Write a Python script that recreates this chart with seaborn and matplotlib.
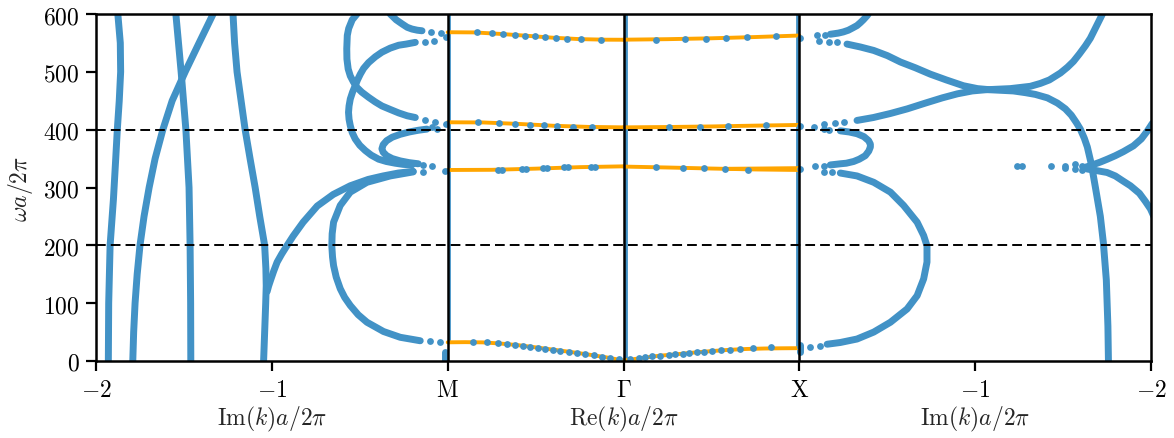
import matplotlib
matplotlib.use("Agg")
import matplotlib.pyplot as plt
import numpy as np
import pandas as pd
import seaborn as sns
from matplotlib.transforms import blended_transform_factory

# ---------------------------------------------------------------------------
# Complex band structure: Im(k) panels (left: M side, right: X side) and the
# real bands along M-Gamma-X.  Frequencies are omega*a/2pi.
# ---------------------------------------------------------------------------

# ---- left panel, Im(k)a/2pi (drawn at x = 2 + Im) -------------------------
L1_w  = [0, 100, 200, 280, 350, 400, 450, 500, 550, 600]
L1_im = [-1.930, -1.928, -1.920, -1.901, -1.888, -1.879, -1.868, -1.860, -1.862, -1.876]

L2_w  = [0, 50, 100, 150, 200, 250, 300, 350, 400, 450, 500, 550, 600]
L2_im = [-1.791, -1.786, -1.778, -1.766, -1.750, -1.727, -1.698, -1.664, -1.620, -1.567,
         -1.493, -1.414, -1.334]

L3_w  = [0, 100, 200, 300, 400, 500, 600]
L3_im = [-1.461, -1.462, -1.465, -1.471, -1.489, -1.516, -1.546]

L4_w  = [0, 50, 100, 130, 160, 200, 250, 300, 350, 400, 450, 500, 550, 600]
L4_im = [-1.047, -1.041, -1.035, -1.032, -1.034, -1.041, -1.069, -1.095, -1.124, -1.152,
         -1.175, -1.198, -1.212, -1.221]

L5_w  = [120, 130, 140, 155, 171, 185, 200, 216, 240, 268, 288, 303, 314, 320, 325, 328]
L5_im = [-1.027, -1.018, -1.007, -0.990, -0.970, -0.944, -0.913, -0.879, -0.822, -0.742,
         -0.651, -0.554, -0.452, -0.367, -0.281, -0.196]

L6_w  = [327, 320, 309, 292, 269, 240, 220, 199, 180, 165, 145, 125, 110, 96, 80, 67, 51, 41, 35]
L6_im = [-0.196, -0.327, -0.459, -0.554, -0.611, -0.649, -0.657, -0.659, -0.655, -0.649,
         -0.634, -0.611, -0.586, -0.554, -0.509, -0.459, -0.365, -0.270, -0.156]

LA_w  = [600, 590, 583, 577, 574, 572, 571]
LA_im = [-0.327, -0.293, -0.260, -0.230, -0.203, -0.173, -0.146]

LB_w  = [600, 590, 575, 563, 540, 522, 505, 493, 483, 473, 465, 456, 448, 441, 435, 429, 424, 421]
LB_im = [-0.516, -0.543, -0.563, -0.571, -0.574, -0.573, -0.566, -0.554, -0.537, -0.516,
         -0.489, -0.450, -0.412, -0.374, -0.327, -0.279, -0.230, -0.184]

LC_w  = [551, 548, 546, 541, 534, 526, 516, 506, 496, 486, 476, 465, 453, 441, 430, 418,
         407, 395, 384, 373, 364, 356, 349, 345, 342, 340, 339]
LC_im = [-0.184, -0.236, -0.279, -0.327, -0.374, -0.412, -0.450, -0.478, -0.497, -0.513,
         -0.526, -0.541, -0.554, -0.561, -0.564, -0.561, -0.554, -0.543, -0.526, -0.500,
         -0.469, -0.435, -0.393, -0.349, -0.298, -0.253, -0.203]

LS_w  = [401, 399, 396, 392, 387, 381, 374, 367, 361, 355, 350, 346, 343, 341]
LS_im = [-0.118, -0.167, -0.219, -0.270, -0.315, -0.347, -0.367, -0.374, -0.367, -0.347,
         -0.315, -0.270, -0.219, -0.167]

LM_w  = [0, 15]
LM_im = [-0.013, -0.013]

# isolated solutions close to M
Ldots_w  = [569.5, 568, 560, 552, 554, 417, 414, 410, 404, 401, 339, 338, 327, 329, 35, 33.5]
Ldots_im = [-0.093, -0.038, -0.010, -0.127, -0.080, -0.127, -0.071, -0.010, -0.089, -0.061,
            -0.139, -0.089, -0.139, -0.013, -0.099, -0.042]

# ---- right panel, Im(k)a/2pi (drawn at x = 4 - Im) ------------------------
R1_w  = [600, 597, 590, 585, 580, 576, 572, 569, 567, 565]
R1_im = [-0.392, -0.385, -0.364, -0.347, -0.328, -0.304, -0.279, -0.250, -0.222, -0.176]

R2_w  = [548, 543, 537, 528, 517, 507, 496, 486, 476, 471, 469, 467, 464, 461, 455, 446,
         436, 425, 412, 401, 385, 370, 340, 300, 250, 205, 140, 60, 0]
R2_im = [-0.271, -0.347, -0.423, -0.501, -0.575, -0.660, -0.745, -0.836, -0.933, -1.013,
         -1.086, -1.217, -1.286, -1.342, -1.411, -1.468, -1.513, -1.547, -1.576, -1.598,
         -1.621, -1.638, -1.661, -1.684, -1.712, -1.729, -1.746, -1.755, -1.758]

R3_w  = [416, 421, 428, 436, 446, 455, 462, 467, 469, 471, 475, 480, 486, 498, 508, 518,
         531, 545, 558, 572, 586, 600]
R3_im = [-0.328, -0.421, -0.518, -0.614, -0.717, -0.813, -0.899, -0.984, -1.058, -1.200,
         -1.314, -1.371, -1.422, -1.485, -1.525, -1.559, -1.593, -1.627, -1.655, -1.678,
         -1.701, -1.724]

R4_w  = [398, 396, 393, 388, 381, 375, 370, 363, 355, 349, 345, 342, 341, 339]
R4_im = [-0.233, -0.284, -0.328, -0.367, -0.394, -0.404, -0.404, -0.395, -0.375, -0.341,
         -0.309, -0.267, -0.233, -0.176]

R5_w  = [325, 320, 309, 292, 269, 240, 217, 199, 171, 142, 113, 90, 67, 50, 38, 32, 29]
R5_im = [-0.233, -0.328, -0.423, -0.518, -0.593, -0.670, -0.707, -0.726, -0.726, -0.707,
         -0.670, -0.613, -0.518, -0.423, -0.328, -0.233, -0.158]

R6_w  = [335, 339, 344, 349, 355, 362, 372, 384, 398, 411]
R6_im = [-1.627, -1.667, -1.712, -1.752, -1.797, -1.843, -1.900, -1.945, -1.980, -2.008]

R7_w  = [332, 329, 326, 320, 312, 303, 290, 276, 263, 240]
R7_im = [-1.637, -1.695, -1.750, -1.797, -1.837, -1.883, -1.934, -1.968, -1.997, -2.031]

RX_w  = [15, 27]
RX_im = [-0.006, -0.006]

# isolated solutions close to X and along omega ~ 335
Rdots_w  = [564, 564, 558, 554, 552, 551, 407, 404, 410, 411, 413, 401, 400, 338, 338, 332,
            326, 326, 26.5, 24, 24,
            337, 338, 337, 338, 333, 340, 332, 338, 330]
Rdots_im = [-0.148, -0.101, -0.006, -0.110, -0.167, -0.214, -0.006, -0.081, -0.138, -0.205,
            -0.252, -0.138, -0.167, -0.138, -0.091, -0.005, -0.138, -0.186, -0.119, -0.063,
            -0.005,
            -1.240, -1.268, -1.433, -1.513, -1.513, -1.570, -1.570, -1.610, -1.610]

# ---- real bands: t is the fraction along M->Gamma or Gamma->X -------------
MG1_t = [0, 0.1, 0.2, 0.3, 0.4, 0.5, 0.6, 0.7, 0.8, 0.9, 1.0]
MG1_w = [32.3, 32.6, 32.2, 30.2, 27.4, 23.6, 19.6, 15.6, 11.2, 6.4, 0.8]
MG2_t = [0, 0.25, 0.5, 0.75, 1.0]
MG2_w = [330.3, 330.6, 332.6, 335.2, 336.6]
MG3_t = [0, 0.2, 0.4, 0.6, 0.8, 1.0]
MG3_w = [412.8, 412.5, 410.0, 406.8, 404.8, 404.0]
MG4_t = [0, 0.15, 0.3, 0.45, 0.6, 0.75, 0.9, 1.0]
MG4_w = [568.5, 568.2, 565.6, 562.4, 559.0, 556.6, 555.6, 555.5]

GX1_t = [0, 0.1, 0.2, 0.3, 0.4, 0.5, 0.6, 0.7, 0.8, 0.9, 1.0]
GX1_w = [0.8, 5.0, 9.0, 11.6, 14.6, 17.1, 19.3, 20.8, 21.6, 22.0, 22.2]
GX2_t = [0, 0.25, 0.5, 0.75, 1.0]
GX2_w = [336.2, 334.6, 332.8, 331.2, 330.3]
GX2b_t = [0.6, 0.8, 1.0]
GX2b_w = [332.4, 332.9, 333.5]
GX3_t = [0, 0.25, 0.5, 0.75, 1.0]
GX3_w = [404.0, 404.6, 405.6, 407.0, 408.2]
GX4_t = [0, 0.25, 0.5, 0.75, 1.0]
GX4_w = [555.6, 556.5, 558.0, 560.2, 562.8]

# frequency-sweep solutions lying on the real bands
MGdots_t = [0.144, 0.224, 0.284, 0.338, 0.385, 0.429, 0.470, 0.512, 0.555, 0.599, 0.641,
            0.688, 0.736, 0.783, 0.830, 0.878, 0.925, 0.973,
            0.289, 0.311, 0.422, 0.444, 0.542, 0.564, 0.664, 0.686, 0.816, 0.838,
            0.172, 0.294, 0.385, 0.467, 0.546, 0.622, 0.711, 0.821,
            0.168, 0.254, 0.316, 0.385, 0.442, 0.499, 0.555, 0.618, 0.681, 0.760, 0.874]
MGdots_w = [33.4, 32.3, 30.6, 29.4, 27.7, 26.5, 24.8, 23.1, 21.3, 19.6, 17.8,
            16.1, 14.4, 12.1, 9.8, 7.4, 5.2, 2.9,
            330.8, 330.8, 332.0, 332.0, 333.1, 333.1, 334.8, 334.8, 336.0, 336.0,
            412.7, 411.0, 409.8, 408.6, 407.5, 406.3, 405.2, 404.0,
            568.4, 566.6, 565.4, 563.7, 562.5, 561.4, 559.7, 558.5, 556.8, 556.3, 555.2]
GXdots_t = [0.039, 0.087, 0.125, 0.163, 0.210, 0.257, 0.295, 0.337, 0.375, 0.419, 0.456,
            0.504, 0.552, 0.604, 0.665, 0.738, 0.836,
            0.186, 0.337, 0.460, 0.576, 0.709,
            0.257, 0.434, 0.595, 0.812,
            0.182, 0.347, 0.470, 0.584, 0.703, 0.869]
GXdots_w = [3.5, 5.2, 6.3, 8.1, 9.2, 10.4, 11.5, 12.7, 13.8, 15.0, 16.1,
            17.3, 18.4, 19.6, 20.8, 22.5, 23.6,
            336.0, 334.3, 333.1, 332.0, 330.8,
            404.0, 405.2, 406.3, 408.1,
            555.4, 556.2, 557.3, 558.5, 559.7, 561.4]

# solutions pinned just next to the high-symmetry points
edge_x  = [2.01, 3.012, 3.985]
edge_lo = [33, 0, 22]
edge_hi = [600, 600, 600]

# axis ticks
tick_pos    = [0, 1, 2, 3, 4, 5, 6]
tick_labels = [r"$-2$", r"$-1$", r"$\mathrm{M}$", r"$\Gamma$", r"$\mathrm{X}$", r"$-1$", r"$-2$"]
ytick_pos   = [0, 100, 200, 300, 400, 500, 600]
gap_lines   = [200, 400, 600]

BLUE = "#4292c6"
ORANGE = "#ffa500"


def left(im):
    return [2 + v for v in im]


def right(im):
    return [4 - v for v in im]


def seg(offset, t):
    return [offset + v for v in t]


def frame(items):
    parts = []
    for name, xs, ws in items:
        parts.append(pd.DataFrame({"curve": name, "x": xs, "w": ws}))
    return pd.concat(parts, ignore_index=True)


blue_lines = frame([
    ("L1", left(L1_im), L1_w), ("L2", left(L2_im), L2_w), ("L3", left(L3_im), L3_w),
    ("L4", left(L4_im), L4_w), ("L5", left(L5_im), L5_w), ("L6", left(L6_im), L6_w),
    ("LA", left(LA_im), LA_w), ("LB", left(LB_im), LB_w), ("LC", left(LC_im), LC_w),
    ("LS", left(LS_im), LS_w), ("LM", left(LM_im), LM_w),
    ("R1", right(R1_im), R1_w), ("R2", right(R2_im), R2_w), ("R3", right(R3_im), R3_w),
    ("R4", right(R4_im), R4_w), ("R5", right(R5_im), R5_w), ("R6", right(R6_im), R6_w),
    ("R7", right(R7_im), R7_w), ("RX", right(RX_im), RX_w),
])

orange_lines = frame([
    ("MG1", seg(2, MG1_t), MG1_w), ("MG2", seg(2, MG2_t), MG2_w),
    ("MG3", seg(2, MG3_t), MG3_w), ("MG4", seg(2, MG4_t), MG4_w),
    ("GX1", seg(3, GX1_t), GX1_w), ("GX2", seg(3, GX2_t), GX2_w),
    ("GX2b", seg(3, GX2b_t), GX2b_w),
    ("GX3", seg(3, GX3_t), GX3_w), ("GX4", seg(3, GX4_t), GX4_w),
])

blue_dots = frame([
    ("Ld", left(Ldots_im), Ldots_w), ("Rd", right(Rdots_im), Rdots_w),
    ("MGd", seg(2, MGdots_t), MGdots_w), ("GXd", seg(3, GXdots_t), GXdots_w),
])

edges = frame([(f"e{i}", [x, x], [lo, hi]) for i, (x, lo, hi)
               in enumerate(zip(edge_x, edge_lo, edge_hi))])

# ---------------------------------------------------------------------------
sns.set_theme(style="ticks")
plt.rcParams.update({
    "font.family": ["DejaVu Serif"],
    "mathtext.fontset": "cm",
    "axes.linewidth": 1.8,
    "axes.edgecolor": "black",
    "xtick.color": "black",
    "ytick.color": "black",
    "xtick.major.size": 7,
    "ytick.major.size": 7,
    "xtick.major.width": 1.6,
    "ytick.major.width": 1.6,
    "xtick.direction": "out",
    "ytick.direction": "out",
})

fig = plt.figure(figsize=(11.74, 4.39), dpi=100)
ax = fig.add_axes([0.0818, 0.1754, 0.8986, 0.7904])

sns.lineplot(data=blue_lines, x="x", y="w", units="curve", estimator=None, sort=False,
             color=BLUE, lw=5.0, solid_capstyle="round", solid_joinstyle="round",
             ax=ax, legend=False, zorder=2)
sns.lineplot(data=edges, x="x", y="w", units="curve", estimator=None, sort=False,
             color=BLUE, lw=2.0, ax=ax, legend=False, zorder=2)
sns.lineplot(data=orange_lines, x="x", y="w", units="curve", estimator=None, sort=False,
             color=ORANGE, lw=2.8, ax=ax, legend=False, zorder=3)
sns.scatterplot(data=blue_dots, x="x", y="w", color=BLUE, s=24, linewidth=0,
                ax=ax, legend=False, zorder=4)

for xv in [2, 3, 4]:
    ax.axvline(xv, color="black", lw=1.8, zorder=5)
for yv in gap_lines:
    ax.axhline(yv, color="black", lw=1.4, ls=(0, (5, 2.6)), zorder=6)

ax.set_xlim(0, 6)
ax.set_ylim(0, 600)
ax.set_xticks(tick_pos)
ax.set_xticklabels(tick_labels)
ax.set_yticks(ytick_pos)
ax.set_yticklabels([rf"${v}$" for v in ytick_pos])
ax.tick_params(labelsize=17, pad=5)
ax.set_xlabel("")
ax.set_ylabel(r"$\omega a/2\pi$", fontsize=17, labelpad=6)

trans = blended_transform_factory(ax.transData, ax.transAxes)
for xv, txt in [(1, r"$\mathrm{Im}(k)a/2\pi$"), (3, r"$\mathrm{Re}(k)a/2\pi$"),
                (5, r"$\mathrm{Im}(k)a/2\pi$")]:
    ax.text(xv, -0.165, txt, transform=trans, ha="center", va="center", fontsize=17)

for side in ["top", "right", "left", "bottom"]:
    ax.spines[side].set_visible(True)
    ax.spines[side].set_zorder(7)

fig.savefig("out.png", dpi=100)
